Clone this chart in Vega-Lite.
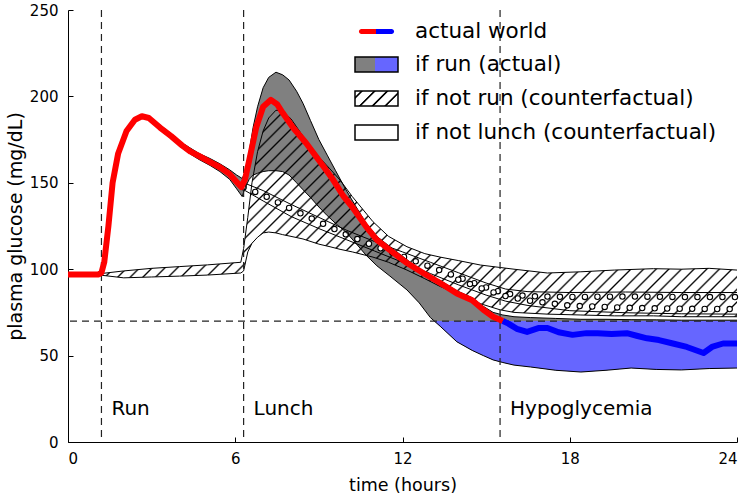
{
  "$schema": "https://vega.github.io/schema/vega-lite/v6.json",
  "width": 669,
  "height": 432,
  "autosize": {"type": "none"},
  "padding": {"left": 68, "top": 10, "right": 13, "bottom": 53},
  "background": "white",
  "config": {
    "view": {"stroke": null},
    "axis": {
      "domainColor": "#000000", "tickColor": "#000000", "labelColor": "#000000", "titleColor": "#000000",
      "labelFont": "DejaVu Sans", "titleFont": "DejaVu Sans", "labelFontSize": 15, "titleFontSize": 17.5,
      "titleFontWeight": "normal", "grid": false, "domainWidth": 1, "tickWidth": 1, "tickSize": -5
    }
  },
  "datasets": {
    "actual": [
      {"t": 0, "v": 97}, {"t": 0.6, "v": 97}, {"t": 1.1, "v": 97}, {"t": 1.2, "v": 98}, {"t": 1.3, "v": 104},
      {"t": 1.45, "v": 125}, {"t": 1.6, "v": 150}, {"t": 1.8, "v": 167}, {"t": 2.1, "v": 180}, {"t": 2.4, "v": 186.5},
      {"t": 2.65, "v": 188.5}, {"t": 2.9, "v": 187.5}, {"t": 3.3, "v": 182}, {"t": 3.7, "v": 177}, {"t": 4.1, "v": 171.5},
      {"t": 4.4, "v": 168}, {"t": 4.7, "v": 165.5}, {"t": 5.1, "v": 162}, {"t": 5.45, "v": 159}, {"t": 5.8, "v": 155},
      {"t": 6.05, "v": 150.5}, {"t": 6.22, "v": 147.5}, {"t": 6.35, "v": 152}, {"t": 6.5, "v": 163}, {"t": 6.75, "v": 182},
      {"t": 7.0, "v": 194}, {"t": 7.28, "v": 198}, {"t": 7.5, "v": 195.5}, {"t": 7.7, "v": 190.5}, {"t": 8.07, "v": 182},
      {"t": 8.54, "v": 173}, {"t": 9.0, "v": 163}, {"t": 9.5, "v": 152}, {"t": 9.87, "v": 142.5}, {"t": 10.2, "v": 136},
      {"t": 10.7, "v": 124.5}, {"t": 11.08, "v": 117}, {"t": 11.55, "v": 111}, {"t": 12.16, "v": 103.6}, {"t": 12.74, "v": 97.8},
      {"t": 13.35, "v": 92}, {"t": 13.95, "v": 86}, {"t": 14.5, "v": 82}, {"t": 14.9, "v": 76.5}, {"t": 15.25, "v": 72.5},
      {"t": 15.6, "v": 70}
    ],
    "actual_hypo": [
      {"t": 15.6, "v": 70}, {"t": 15.8, "v": 68.5}, {"t": 16.1, "v": 65.5}, {"t": 16.47, "v": 63.7}, {"t": 16.9, "v": 66},
      {"t": 17.2, "v": 66}, {"t": 17.6, "v": 63.5}, {"t": 18.1, "v": 62}, {"t": 18.6, "v": 63}, {"t": 19.0, "v": 63},
      {"t": 19.5, "v": 62.5}, {"t": 20.05, "v": 63}, {"t": 20.4, "v": 61.5}, {"t": 20.77, "v": 60}, {"t": 21.2, "v": 59},
      {"t": 21.7, "v": 57}, {"t": 22.2, "v": 55}, {"t": 22.8, "v": 51.5}, {"t": 23.1, "v": 55}, {"t": 23.5, "v": 57},
      {"t": 24, "v": 57}
    ],
    "run": [
      {"t": 1.2, "hi": 98.5, "lo": 96.5}, {"t": 1.3, "hi": 105, "lo": 102}, {"t": 1.45, "hi": 126, "lo": 124},
      {"t": 1.6, "hi": 151, "lo": 149}, {"t": 1.8, "hi": 168, "lo": 166}, {"t": 2.1, "hi": 181, "lo": 179},
      {"t": 2.4, "hi": 187.5, "lo": 185.5}, {"t": 2.65, "hi": 189.5, "lo": 187.5}, {"t": 2.9, "hi": 188.5, "lo": 186.5},
      {"t": 3.3, "hi": 183.5, "lo": 180.5}, {"t": 3.7, "hi": 178.5, "lo": 175.5}, {"t": 4.1, "hi": 173, "lo": 170},
      {"t": 4.4, "hi": 170, "lo": 166.5}, {"t": 4.7, "hi": 167, "lo": 163.5}, {"t": 5.1, "hi": 164, "lo": 160},
      {"t": 5.45, "hi": 161, "lo": 156.5}, {"t": 5.8, "hi": 157.5, "lo": 152}, {"t": 6.05, "hi": 154.5, "lo": 146.5},
      {"t": 6.25, "hi": 152.5, "lo": 142}, {"t": 6.35, "hi": 156, "lo": 147}, {"t": 6.5, "hi": 168, "lo": 152},
      {"t": 6.64, "hi": 182, "lo": 154.5}, {"t": 6.8, "hi": 194, "lo": 155.5}, {"t": 7.0, "hi": 205, "lo": 156.5},
      {"t": 7.2, "hi": 211, "lo": 157}, {"t": 7.46, "hi": 214, "lo": 157}, {"t": 7.7, "hi": 212.5, "lo": 156.5},
      {"t": 7.93, "hi": 209.5, "lo": 154.5}, {"t": 8.2, "hi": 203, "lo": 150}, {"t": 8.43, "hi": 196, "lo": 146},
      {"t": 8.7, "hi": 186, "lo": 141.5}, {"t": 9.0, "hi": 175, "lo": 136}, {"t": 9.3, "hi": 166, "lo": 131},
      {"t": 9.6, "hi": 157, "lo": 126.5}, {"t": 9.97, "hi": 146, "lo": 121.5}, {"t": 10.3, "hi": 137, "lo": 115.5},
      {"t": 10.7, "hi": 126.5, "lo": 108}, {"t": 11.08, "hi": 119, "lo": 102}, {"t": 11.55, "hi": 113, "lo": 96},
      {"t": 12.16, "hi": 105.5, "lo": 88}, {"t": 12.6, "hi": 100, "lo": 80.5}, {"t": 13.0, "hi": 95.5, "lo": 72},
      {"t": 13.35, "hi": 93.5, "lo": 67}, {"t": 13.95, "hi": 87.5, "lo": 58}, {"t": 14.5, "hi": 83.5, "lo": 53},
      {"t": 14.9, "hi": 78.5, "lo": 50}, {"t": 15.25, "hi": 75, "lo": 47.5}, {"t": 15.6, "hi": 73.5, "lo": 46},
      {"t": 16.0, "hi": 72.5, "lo": 44.5}, {"t": 16.6, "hi": 72, "lo": 43.4}, {"t": 17.5, "hi": 71.5, "lo": 41.5},
      {"t": 18.4, "hi": 71, "lo": 40.5}, {"t": 19.3, "hi": 71, "lo": 41.5}, {"t": 20.2, "hi": 70.8, "lo": 42.8},
      {"t": 21.1, "hi": 70.7, "lo": 42}, {"t": 22, "hi": 70.5, "lo": 41.7}, {"t": 23, "hi": 70.5, "lo": 42.5},
      {"t": 24, "hi": 70.5, "lo": 42.8}
    ],
    "hypo": [
      {"t": 13.14, "hi": 70, "lo": 70}, {"t": 13.35, "hi": 70, "lo": 67}, {"t": 13.95, "hi": 70, "lo": 58}, {"t": 14.5, "hi": 70, "lo": 53},
      {"t": 14.9, "hi": 70, "lo": 50}, {"t": 15.25, "hi": 70, "lo": 47.5}, {"t": 15.6, "hi": 70, "lo": 46}, {"t": 16.0, "hi": 70, "lo": 44.5},
      {"t": 16.6, "hi": 70, "lo": 43.4}, {"t": 17.5, "hi": 70, "lo": 41.5}, {"t": 18.4, "hi": 70, "lo": 40.5}, {"t": 19.3, "hi": 70, "lo": 41.5},
      {"t": 20.2, "hi": 70, "lo": 42.8}, {"t": 21.1, "hi": 70, "lo": 42}, {"t": 22, "hi": 70, "lo": 41.7}, {"t": 23, "hi": 70, "lo": 42.5},
      {"t": 24, "hi": 70, "lo": 42.8}
    ],
    "notrun": [
      {"t": 1.2, "hi": 97.5, "lo": 96.5}, {"t": 2, "hi": 99, "lo": 95}, {"t": 3, "hi": 100.5, "lo": 95.5},
      {"t": 4, "hi": 101.5, "lo": 96}, {"t": 5, "hi": 102.5, "lo": 96.6}, {"t": 6.2, "hi": 104, "lo": 97.8},
      {"t": 6.3, "hi": 112, "lo": 99}, {"t": 6.45, "hi": 130, "lo": 110}, {"t": 6.6, "hi": 150, "lo": 115},
      {"t": 6.8, "hi": 168, "lo": 118.5}, {"t": 7.0, "hi": 180, "lo": 121}, {"t": 7.2, "hi": 187.5, "lo": 121.5},
      {"t": 7.46, "hi": 192, "lo": 121}, {"t": 7.7, "hi": 191.5, "lo": 120}, {"t": 8.0, "hi": 187, "lo": 119},
      {"t": 8.43, "hi": 177, "lo": 117.5}, {"t": 9.0, "hi": 165, "lo": 114.5}, {"t": 9.4, "hi": 158, "lo": 113},
      {"t": 9.76, "hi": 151.6, "lo": 111.5}, {"t": 10.2, "hi": 142, "lo": 110}, {"t": 10.94, "hi": 127.5, "lo": 107},
      {"t": 11.5, "hi": 119, "lo": 104}, {"t": 12.16, "hi": 113, "lo": 99.5}, {"t": 12.8, "hi": 109, "lo": 94.5},
      {"t": 13.35, "hi": 107, "lo": 90}, {"t": 14, "hi": 105, "lo": 85.5}, {"t": 14.8, "hi": 102.4, "lo": 80},
      {"t": 15.5, "hi": 101, "lo": 76.5}, {"t": 16, "hi": 100, "lo": 75}, {"t": 17.2, "hi": 97.8, "lo": 74},
      {"t": 18.4, "hi": 98.5, "lo": 73.5}, {"t": 19.6, "hi": 99.5, "lo": 73}, {"t": 21, "hi": 100.3, "lo": 73},
      {"t": 22, "hi": 100, "lo": 72.5}, {"t": 23, "hi": 100.5, "lo": 72.5}, {"t": 24, "hi": 99.5, "lo": 72.5}
    ],
    "nolunch": [
      {"t": 6.3, "hi": 150, "lo": 146}, {"t": 7.0, "hi": 145.5, "lo": 139.5}, {"t": 8.0, "hi": 137.5, "lo": 130.5},
      {"t": 9.0, "hi": 130, "lo": 123.5}, {"t": 10.0, "hi": 122.5, "lo": 117}, {"t": 11.0, "hi": 116, "lo": 110.5},
      {"t": 12.0, "hi": 110, "lo": 104}, {"t": 13.0, "hi": 104, "lo": 97.5}, {"t": 14.0, "hi": 98, "lo": 91},
      {"t": 15.0, "hi": 92, "lo": 85}, {"t": 15.7, "hi": 88.5, "lo": 81.5}, {"t": 16.5, "hi": 87, "lo": 79},
      {"t": 18.0, "hi": 86.5, "lo": 76}, {"t": 20.0, "hi": 86.8, "lo": 74.8}, {"t": 22.0, "hi": 86.5, "lo": 74.2},
      {"t": 24.0, "hi": 86.5, "lo": 74}
    ],
    "events": [
      {"t": 1.2, "label": "Run"}, {"t": 6.3, "label": "Lunch"}, {"t": 15.5, "label": "Hypoglycemia"}
    ],
    "threshold": [{"v": 70}],
    "legend": [
      {"series": "actual world"}, {"series": "if run (actual)"},
      {"series": "if not run (counterfactual)"}, {"series": "if not lunch (counterfactual)"}
    ]
  },
  "layer": [
    {
      "data": {"name": "run"},
      "mark": {"type": "area", "color": "#808080", "opacity": 1},
      "encoding": {
        "x": {"field": "t", "type": "quantitative", "scale": {"domain": [0, 24], "nice": false, "zero": false},
              "axis": {"values": [0, 6, 12, 18, 24], "title": "time (hours)", "labelPadding": 14, "titlePadding": 10}},
        "y": {"field": "hi", "type": "quantitative", "scale": {"domain": [0, 250], "nice": false},
              "axis": {"values": [0, 50, 100, 150, 200, 250], "title": "plasma glucose (mg/dL)", "labelPadding": 15, "titlePadding": 4, "titleFontSize": 19}},
        "y2": {"field": "lo"}
      }
    },
    {
      "data": {"name": "hypo"},
      "mark": {"type": "area", "color": "#6666ff", "opacity": 1},
      "encoding": {
        "x": {"field": "t", "type": "quantitative"},
        "y": {"field": "hi", "type": "quantitative"},
        "y2": {"field": "lo"}
      }
    },
    {
      "data": {"name": "notrun"},
      "mark": {
        "type": "area", "opacity": 1,
        "fill": {
          "gradient": "linear", "x1": 0, "y1": 0, "x2": 1.1984, "y2": 0.3894,
          "stops": [
            {"offset": 0.0053, "color": "transparent"}, {"offset": 0.0075, "color": "#000000"}, {"offset": 0.0097, "color": "transparent"},
            {"offset": 0.0203, "color": "transparent"}, {"offset": 0.0225, "color": "#000000"}, {"offset": 0.0247, "color": "transparent"},
            {"offset": 0.0353, "color": "transparent"}, {"offset": 0.0375, "color": "#000000"}, {"offset": 0.0397, "color": "transparent"},
            {"offset": 0.0503, "color": "transparent"}, {"offset": 0.0525, "color": "#000000"}, {"offset": 0.0547, "color": "transparent"},
            {"offset": 0.0653, "color": "transparent"}, {"offset": 0.0675, "color": "#000000"}, {"offset": 0.0697, "color": "transparent"},
            {"offset": 0.0803, "color": "transparent"}, {"offset": 0.0825, "color": "#000000"}, {"offset": 0.0847, "color": "transparent"},
            {"offset": 0.0953, "color": "transparent"}, {"offset": 0.0975, "color": "#000000"}, {"offset": 0.0997, "color": "transparent"},
            {"offset": 0.1103, "color": "transparent"}, {"offset": 0.1125, "color": "#000000"}, {"offset": 0.1147, "color": "transparent"},
            {"offset": 0.1253, "color": "transparent"}, {"offset": 0.1275, "color": "#000000"}, {"offset": 0.1297, "color": "transparent"},
            {"offset": 0.1403, "color": "transparent"}, {"offset": 0.1425, "color": "#000000"}, {"offset": 0.1447, "color": "transparent"},
            {"offset": 0.1553, "color": "transparent"}, {"offset": 0.1575, "color": "#000000"}, {"offset": 0.1597, "color": "transparent"},
            {"offset": 0.1703, "color": "transparent"}, {"offset": 0.1725, "color": "#000000"}, {"offset": 0.1747, "color": "transparent"},
            {"offset": 0.1853, "color": "transparent"}, {"offset": 0.1875, "color": "#000000"}, {"offset": 0.1897, "color": "transparent"},
            {"offset": 0.2003, "color": "transparent"}, {"offset": 0.2025, "color": "#000000"}, {"offset": 0.2047, "color": "transparent"},
            {"offset": 0.2153, "color": "transparent"}, {"offset": 0.2175, "color": "#000000"}, {"offset": 0.2197, "color": "transparent"},
            {"offset": 0.2303, "color": "transparent"}, {"offset": 0.2325, "color": "#000000"}, {"offset": 0.2347, "color": "transparent"},
            {"offset": 0.2453, "color": "transparent"}, {"offset": 0.2475, "color": "#000000"}, {"offset": 0.2497, "color": "transparent"},
            {"offset": 0.2603, "color": "transparent"}, {"offset": 0.2625, "color": "#000000"}, {"offset": 0.2647, "color": "transparent"},
            {"offset": 0.2753, "color": "transparent"}, {"offset": 0.2775, "color": "#000000"}, {"offset": 0.2797, "color": "transparent"},
            {"offset": 0.2903, "color": "transparent"}, {"offset": 0.2925, "color": "#000000"}, {"offset": 0.2947, "color": "transparent"},
            {"offset": 0.3053, "color": "transparent"}, {"offset": 0.3075, "color": "#000000"}, {"offset": 0.3097, "color": "transparent"},
            {"offset": 0.3203, "color": "transparent"}, {"offset": 0.3225, "color": "#000000"}, {"offset": 0.3247, "color": "transparent"},
            {"offset": 0.3353, "color": "transparent"}, {"offset": 0.3375, "color": "#000000"}, {"offset": 0.3397, "color": "transparent"},
            {"offset": 0.3503, "color": "transparent"}, {"offset": 0.3525, "color": "#000000"}, {"offset": 0.3547, "color": "transparent"},
            {"offset": 0.3653, "color": "transparent"}, {"offset": 0.3675, "color": "#000000"}, {"offset": 0.3697, "color": "transparent"},
            {"offset": 0.3803, "color": "transparent"}, {"offset": 0.3825, "color": "#000000"}, {"offset": 0.3847, "color": "transparent"},
            {"offset": 0.3953, "color": "transparent"}, {"offset": 0.3975, "color": "#000000"}, {"offset": 0.3997, "color": "transparent"},
            {"offset": 0.4103, "color": "transparent"}, {"offset": 0.4125, "color": "#000000"}, {"offset": 0.4147, "color": "transparent"},
            {"offset": 0.4253, "color": "transparent"}, {"offset": 0.4275, "color": "#000000"}, {"offset": 0.4297, "color": "transparent"},
            {"offset": 0.4403, "color": "transparent"}, {"offset": 0.4425, "color": "#000000"}, {"offset": 0.4447, "color": "transparent"},
            {"offset": 0.4553, "color": "transparent"}, {"offset": 0.4575, "color": "#000000"}, {"offset": 0.4597, "color": "transparent"},
            {"offset": 0.4703, "color": "transparent"}, {"offset": 0.4725, "color": "#000000"}, {"offset": 0.4747, "color": "transparent"},
            {"offset": 0.4853, "color": "transparent"}, {"offset": 0.4875, "color": "#000000"}, {"offset": 0.4897, "color": "transparent"},
            {"offset": 0.5003, "color": "transparent"}, {"offset": 0.5025, "color": "#000000"}, {"offset": 0.5047, "color": "transparent"},
            {"offset": 0.5153, "color": "transparent"}, {"offset": 0.5175, "color": "#000000"}, {"offset": 0.5197, "color": "transparent"},
            {"offset": 0.5303, "color": "transparent"}, {"offset": 0.5325, "color": "#000000"}, {"offset": 0.5347, "color": "transparent"},
            {"offset": 0.5453, "color": "transparent"}, {"offset": 0.5475, "color": "#000000"}, {"offset": 0.5497, "color": "transparent"},
            {"offset": 0.5603, "color": "transparent"}, {"offset": 0.5625, "color": "#000000"}, {"offset": 0.5647, "color": "transparent"},
            {"offset": 0.5753, "color": "transparent"}, {"offset": 0.5775, "color": "#000000"}, {"offset": 0.5797, "color": "transparent"},
            {"offset": 0.5903, "color": "transparent"}, {"offset": 0.5925, "color": "#000000"}, {"offset": 0.5947, "color": "transparent"},
            {"offset": 0.6053, "color": "transparent"}, {"offset": 0.6075, "color": "#000000"}, {"offset": 0.6097, "color": "transparent"},
            {"offset": 0.6203, "color": "transparent"}, {"offset": 0.6225, "color": "#000000"}, {"offset": 0.6247, "color": "transparent"},
            {"offset": 0.6353, "color": "transparent"}, {"offset": 0.6375, "color": "#000000"}, {"offset": 0.6397, "color": "transparent"},
            {"offset": 0.6503, "color": "transparent"}, {"offset": 0.6525, "color": "#000000"}, {"offset": 0.6547, "color": "transparent"},
            {"offset": 0.6653, "color": "transparent"}, {"offset": 0.6675, "color": "#000000"}, {"offset": 0.6697, "color": "transparent"},
            {"offset": 0.6803, "color": "transparent"}, {"offset": 0.6825, "color": "#000000"}, {"offset": 0.6847, "color": "transparent"},
            {"offset": 0.6953, "color": "transparent"}, {"offset": 0.6975, "color": "#000000"}, {"offset": 0.6997, "color": "transparent"},
            {"offset": 0.7103, "color": "transparent"}, {"offset": 0.7125, "color": "#000000"}, {"offset": 0.7147, "color": "transparent"},
            {"offset": 0.7253, "color": "transparent"}, {"offset": 0.7275, "color": "#000000"}, {"offset": 0.7297, "color": "transparent"},
            {"offset": 0.7403, "color": "transparent"}, {"offset": 0.7425, "color": "#000000"}, {"offset": 0.7447, "color": "transparent"},
            {"offset": 0.7553, "color": "transparent"}, {"offset": 0.7575, "color": "#000000"}, {"offset": 0.7597, "color": "transparent"},
            {"offset": 0.7703, "color": "transparent"}, {"offset": 0.7725, "color": "#000000"}, {"offset": 0.7747, "color": "transparent"},
            {"offset": 0.7853, "color": "transparent"}, {"offset": 0.7875, "color": "#000000"}, {"offset": 0.7897, "color": "transparent"},
            {"offset": 0.8003, "color": "transparent"}, {"offset": 0.8025, "color": "#000000"}, {"offset": 0.8047, "color": "transparent"},
            {"offset": 0.8153, "color": "transparent"}, {"offset": 0.8175, "color": "#000000"}, {"offset": 0.8197, "color": "transparent"},
            {"offset": 0.8303, "color": "transparent"}, {"offset": 0.8325, "color": "#000000"}, {"offset": 0.8347, "color": "transparent"},
            {"offset": 0.8453, "color": "transparent"}, {"offset": 0.8475, "color": "#000000"}, {"offset": 0.8497, "color": "transparent"},
            {"offset": 0.8603, "color": "transparent"}, {"offset": 0.8625, "color": "#000000"}, {"offset": 0.8647, "color": "transparent"},
            {"offset": 0.8753, "color": "transparent"}, {"offset": 0.8775, "color": "#000000"}, {"offset": 0.8797, "color": "transparent"},
            {"offset": 0.8903, "color": "transparent"}, {"offset": 0.8925, "color": "#000000"}, {"offset": 0.8947, "color": "transparent"},
            {"offset": 0.9053, "color": "transparent"}, {"offset": 0.9075, "color": "#000000"}, {"offset": 0.9097, "color": "transparent"},
            {"offset": 0.9203, "color": "transparent"}, {"offset": 0.9225, "color": "#000000"}, {"offset": 0.9247, "color": "transparent"},
            {"offset": 0.9353, "color": "transparent"}, {"offset": 0.9375, "color": "#000000"}, {"offset": 0.9397, "color": "transparent"},
            {"offset": 0.9503, "color": "transparent"}, {"offset": 0.9525, "color": "#000000"}, {"offset": 0.9547, "color": "transparent"},
            {"offset": 0.9653, "color": "transparent"}, {"offset": 0.9675, "color": "#000000"}, {"offset": 0.9697, "color": "transparent"},
            {"offset": 0.9803, "color": "transparent"}, {"offset": 0.9825, "color": "#000000"}, {"offset": 0.9847, "color": "transparent"},
            {"offset": 0.9953, "color": "transparent"}, {"offset": 0.9975, "color": "#000000"}, {"offset": 0.9997, "color": "transparent"}
          ]
        }
      },
      "encoding": {
        "x": {"field": "t", "type": "quantitative"},
        "y": {"field": "hi", "type": "quantitative"},
        "y2": {"field": "lo"}
      }
    },
    {
      "data": {"name": "nolunch"},
      "mark": {"type": "line", "stroke": "#000000", "strokeWidth": 6.5, "strokeDash": [0, 12.5], "strokeCap": "round", "yOffset": 4.5},
      "encoding": {"x": {"field": "t", "type": "quantitative"}, "y": {"field": "hi", "type": "quantitative"}}
    },
    {
      "data": {"name": "nolunch"},
      "mark": {"type": "line", "stroke": "#ffffff", "strokeWidth": 4.3, "strokeDash": [0, 12.5], "strokeCap": "round", "yOffset": 4.5},
      "encoding": {"x": {"field": "t", "type": "quantitative"}, "y": {"field": "hi", "type": "quantitative"}}
    },
    {
      "data": {"name": "nolunch"},
      "transform": [{"filter": "datum.t >= 13.5"}],
      "mark": {"type": "line", "stroke": "#000000", "strokeWidth": 6.5, "strokeDash": [0, 12.5], "strokeCap": "round", "yOffset": -5},
      "encoding": {"x": {"field": "t", "type": "quantitative"}, "y": {"field": "lo", "type": "quantitative"}}
    },
    {
      "data": {"name": "nolunch"},
      "transform": [{"filter": "datum.t >= 13.5"}],
      "mark": {"type": "line", "stroke": "#ffffff", "strokeWidth": 4.3, "strokeDash": [0, 12.5], "strokeCap": "round", "yOffset": -5},
      "encoding": {"x": {"field": "t", "type": "quantitative"}, "y": {"field": "lo", "type": "quantitative"}}
    },
    {
      "data": {"name": "run"},
      "transform": [{"fold": ["hi", "lo"], "as": ["edge", "g"]}],
      "mark": {"type": "line", "stroke": "#000000", "strokeWidth": 1},
      "encoding": {"x": {"field": "t", "type": "quantitative"}, "y": {"field": "g", "type": "quantitative"}, "detail": {"field": "edge"}}
    },
    {
      "data": {"name": "notrun"},
      "transform": [{"fold": ["hi", "lo"], "as": ["edge", "g"]}],
      "mark": {"type": "line", "stroke": "#000000", "strokeWidth": 1},
      "encoding": {"x": {"field": "t", "type": "quantitative"}, "y": {"field": "g", "type": "quantitative"}, "detail": {"field": "edge"}}
    },
    {
      "data": {"name": "nolunch"},
      "transform": [{"fold": ["hi", "lo"], "as": ["edge", "g"]}],
      "mark": {"type": "line", "stroke": "#000000", "strokeWidth": 1},
      "encoding": {"x": {"field": "t", "type": "quantitative"}, "y": {"field": "g", "type": "quantitative"}, "detail": {"field": "edge"}}
    },
    {
      "data": {"name": "threshold"},
      "mark": {"type": "rule", "stroke": "#222222", "strokeWidth": 1.2, "strokeDash": [7, 5]},
      "encoding": {"y": {"field": "v", "type": "quantitative"}}
    },
    {
      "data": {"name": "events"},
      "mark": {"type": "rule", "stroke": "#222222", "strokeWidth": 1.2, "strokeDash": [7, 5]},
      "encoding": {"x": {"field": "t", "type": "quantitative"}}
    },
    {
      "data": {"name": "actual"},
      "mark": {"type": "line", "stroke": "#ff0000", "strokeWidth": 6, "strokeJoin": "round"},
      "encoding": {"x": {"field": "t", "type": "quantitative"}, "y": {"field": "v", "type": "quantitative"}}
    },
    {
      "data": {"name": "actual_hypo"},
      "mark": {"type": "line", "stroke": "#0000ff", "strokeWidth": 6, "strokeJoin": "round"},
      "encoding": {"x": {"field": "t", "type": "quantitative"}, "y": {"field": "v", "type": "quantitative"}}
    },
    {
      "data": {"name": "events"},
      "mark": {"type": "text", "align": "left", "baseline": "alphabetic", "dx": 10, "font": "DejaVu Sans", "fontSize": 20, "color": "#000000"},
      "encoding": {
        "x": {"field": "t", "type": "quantitative"},
        "y": {"datum": 15.6, "type": "quantitative"},
        "text": {"field": "label"}
      }
    },
    {
      "data": {"name": "legend"},
      "mark": {"type": "point", "opacity": 0},
      "encoding": {
        "shape": {
          "field": "series", "type": "nominal",
          "scale": {
            "domain": ["actual world", "if run (actual)", "if not run (counterfactual)", "if not lunch (counterfactual)"],
            "range": [
              "M-0.7,-0.116H0.7A0.116,0.116,0,0,1,0.7,0.116H-0.7A0.116,0.116,0,0,1,-0.7,-0.116Z",
              "M-1,-0.349H1V0.349H-1Z",
              "M-1,-0.349H1V0.349H-1Z",
              "M-1,-0.349H1V0.349H-1Z"
            ]
          },
          "legend": {
            "orient": "none", "legendX": 286, "legendY": -1, "title": null,
            "labelFont": "DejaVu Sans", "labelFontSize": 21.5, "labelColor": "#000000", "labelLimit": 0,
            "labelOffset": 16, "rowPadding": -2.3, "symbolSize": 1849, "symbolStrokeWidth": 1.5,
            "encoding": {
              "symbols": {
                "fill": {"value": {"signal": "datum.value === 'actual world' ? {gradient: 'linear', x1: 0, y1: 0, x2: 1, y2: 0, stops: [{offset: 0, color: '#ff0000'}, {offset: 0.5, color: '#ff0000'}, {offset: 0.5, color: '#0000ff'}, {offset: 1, color: '#0000ff'}]} : datum.value === 'if run (actual)' ? {gradient: 'linear', x1: 0, y1: 0, x2: 1, y2: 0, stops: [{offset: 0, color: '#808080'}, {offset: 0.46, color: '#808080'}, {offset: 0.46, color: '#6666ff'}, {offset: 1, color: '#6666ff'}]} : datum.value === 'if not run (counterfactual)' ? {gradient: 'linear', x1: 0, y1: 0, x2: 1.2026, y2: 0.4197, stops: [{offset: 0, color: '#ffffff'}, {offset: 0.09, color: '#ffffff'}, {offset: 0.11, color: '#000000'}, {offset: 0.13, color: '#000000'}, {offset: 0.15, color: '#ffffff'}, {offset: 0.31, color: '#ffffff'}, {offset: 0.33, color: '#000000'}, {offset: 0.35, color: '#000000'}, {offset: 0.37, color: '#ffffff'}, {offset: 0.53, color: '#ffffff'}, {offset: 0.55, color: '#000000'}, {offset: 0.57, color: '#000000'}, {offset: 0.59, color: '#ffffff'}, {offset: 0.75, color: '#ffffff'}, {offset: 0.77, color: '#000000'}, {offset: 0.79, color: '#000000'}, {offset: 0.81, color: '#ffffff'}, {offset: 1, color: '#ffffff'}]} : '#ffffff'"}},
                "stroke": {"value": {"signal": "datum.value === 'actual world' ? 'transparent' : '#000000'"}},
                "strokeWidth": {"value": 1.5},
                "opacity": {"value": 1}
              }
            }
          }
        }
      }
    }
  ]
}
